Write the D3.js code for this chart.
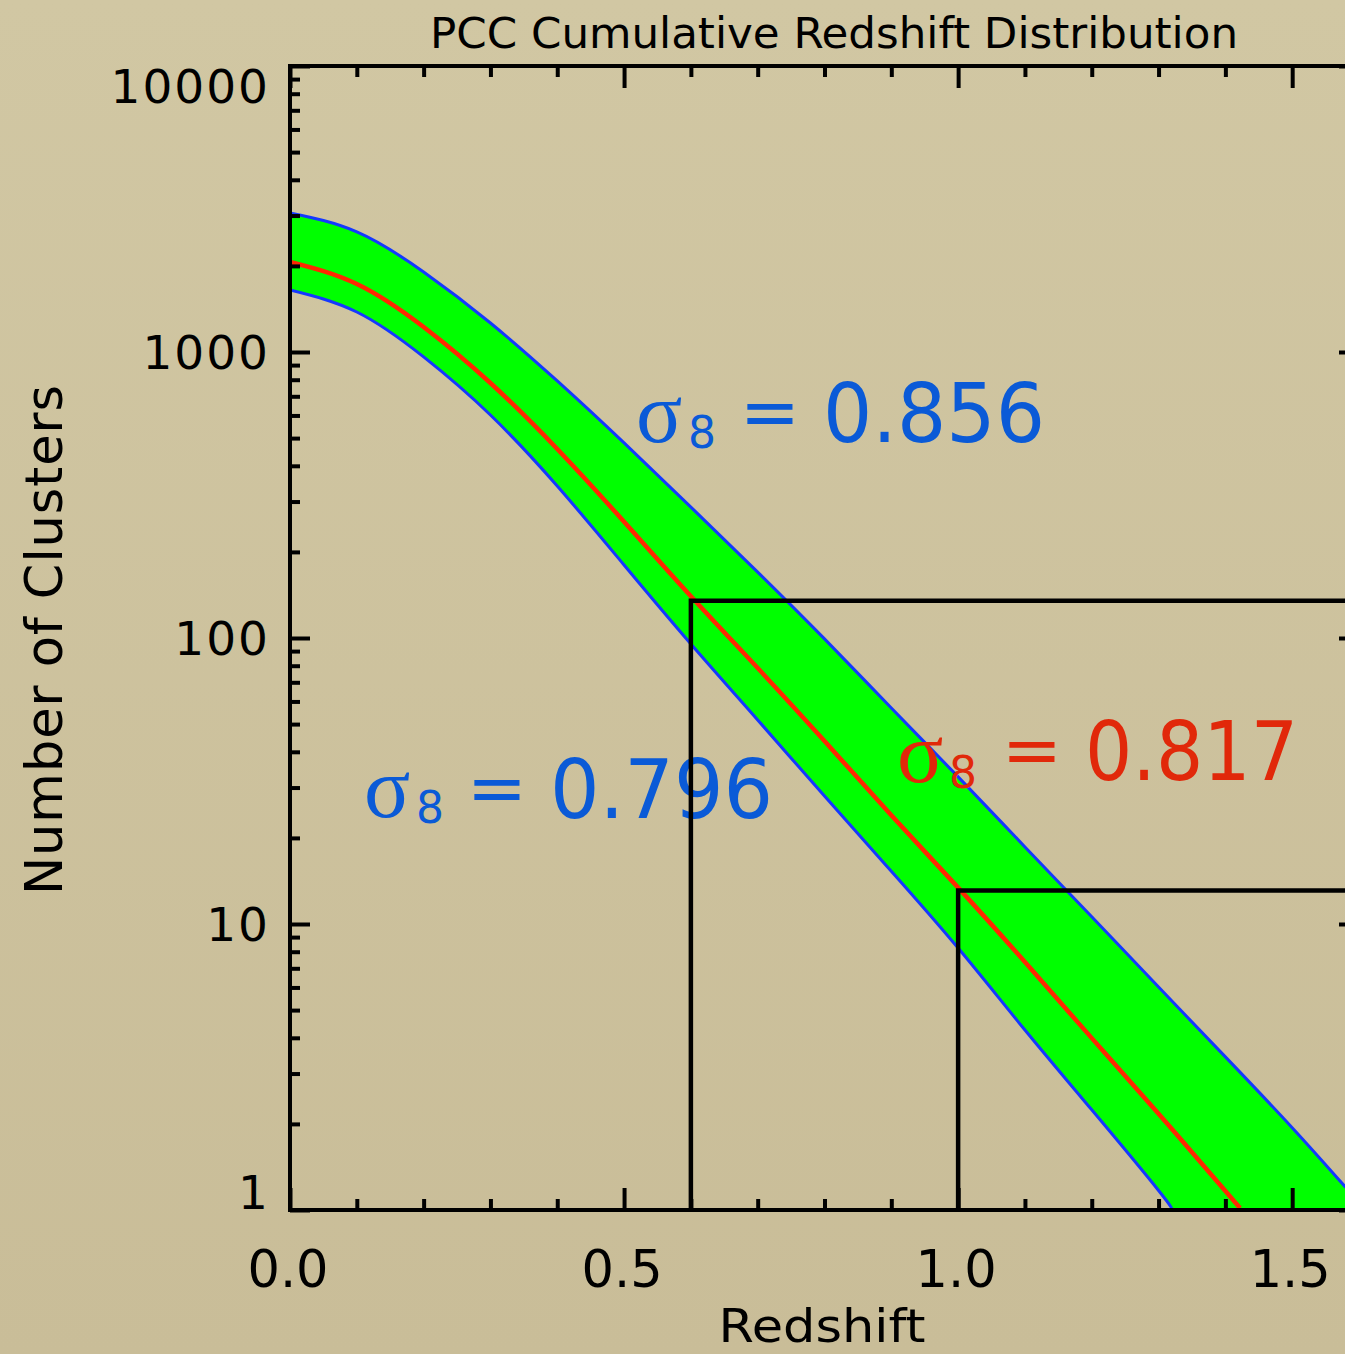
<!DOCTYPE html>
<html><head><meta charset="utf-8">
<script src="https://cdn.jsdelivr.net/npm/d3@7"></script>
<style>html,body{margin:0;padding:0;background:#cfc4a0;overflow:hidden}</style>
</head><body><svg id="c" width="1345" height="1354"></svg>
<script>
// ---------- data ----------
const chartTitle = "PCC Cumulative Redshift Distribution";
const xTitle = "Redshift";
const yTitle = "Number of Clusters";
const xMajorTicks = [0, 0.5, 1.0, 1.5];
const xTickLabels = ["0.0", "0.5", "1.0", "1.5"];
const xMinorTicks = [0.1, 0.2, 0.3, 0.4, 0.6, 0.7, 0.8, 0.9, 1.1, 1.2, 1.3, 1.4];
const yMajorTicks = [1, 10, 100, 1000, 10000];
const yTickLabels = ["1", "10", "100", "1000", "10000"];
const yMinorTicks = [2,3,4,5,6,7,8,9,20,30,40,50,60,70,80,90,200,300,400,500,600,700,800,900,2000,3000,4000,5000,6000,7000,8000,9000];

// sigma8 = 0.856 (upper envelope)
const zUpper = [0, 0.1, 0.2, 0.3, 0.4, 0.5, 0.6, 0.7, 0.8, 0.9, 1.0, 1.1, 1.2, 1.3, 1.4, 1.5, 1.58];
const nUpper = [3062, 2630, 1905, 1263, 792, 481, 287, 170, 99.3, 56.9, 32.7, 18.6, 10.6, 6.02, 3.43, 1.94, 1.20];
// sigma8 = 0.817 (central)
const zCentral = [0, 0.1, 0.2, 0.3, 0.4, 0.5, 0.6, 0.7, 0.8, 0.9, 1.0, 1.1, 1.2, 1.3, 1.4, 1.422];
const nCentral = [2065, 1729, 1223, 779, 458, 255, 140, 78.5, 43.6, 24.0, 13.4, 7.36, 3.99, 2.17, 1.165, 1.016];
// sigma8 = 0.796 (lower envelope)
const zLower = [0, 0.1, 0.2, 0.3, 0.4, 0.5, 0.6, 0.7, 0.8, 0.9, 1.0, 1.1, 1.2, 1.3, 1.32];
const nLower = [1648, 1380, 961, 602, 340, 180, 95.3, 51.7, 28.0, 15.3, 8.24, 4.26, 2.24, 1.17, 1.0];

// redshift cuts (vertical + horizontal black lines)
const cutZ = [0.6, 1.0];
const cutN = [135, 13.1];

const sigmaValues = ["0.856", "0.796", "0.817"];

// ---------- layout ----------
const svg = d3.select("#c");
const L = 290, T = 66, B = 1210, R = 1359;
const x = d3.scaleLinear().domain([0, 1.6]).range([L, R]);
const y = d3.scaleLog().domain([1, 10000]).range([B, T]);

const defs = svg.append("defs");
const grad = defs.append("linearGradient").attr("id","bg").attr("x1",0).attr("y1",0).attr("x2",0).attr("y2",1);
grad.append("stop").attr("offset","0%").attr("stop-color","#d1c7a3");
grad.append("stop").attr("offset","100%").attr("stop-color","#c9bd98");
svg.append("rect").attr("width",1345).attr("height",1354).attr("fill","url(#bg)");

defs.append("clipPath").attr("id","plot").append("rect")
  .attr("x",L).attr("y",T).attr("width",R-L).attr("height",B-T);

const pts = (zs, ns) => zs.map((z,i)=>[x(z), y(ns[i])]);
const lineGen = d3.line().curve(d3.curveNatural);

const up = pts(zUpper, nUpper), mid = pts(zCentral, nCentral), lo = pts(zLower, nLower);
const pUp = lineGen(up);
const pLoRev = lineGen(lo.slice().reverse());
const bandPath = pUp + "L" + up[up.length-1][0] + "," + y(y.domain()[0]) +
  "L" + lo[lo.length-1][0] + "," + lo[lo.length-1][1] + "L" + pLoRev.slice(1) + "Z";

const plot = svg.append("g").attr("clip-path","url(#plot)");
plot.append("path").attr("d", bandPath).attr("fill","#00ff00").attr("stroke","none");
plot.append("path").attr("d", pUp).attr("fill","none").attr("stroke","#1438ff").attr("stroke-width",3);
plot.append("path").attr("d", lineGen(lo)).attr("fill","none").attr("stroke","#1438ff").attr("stroke-width",3);
plot.append("path").attr("d", lineGen(mid)).attr("fill","none").attr("stroke","#ff2800").attr("stroke-width",4.5);

// ---------- sigma labels ----------
const sigmaSpecs = [
  {v: sigmaValues[0], color:"#0a5ad7", sx:636, sb:442, ex:770, vx:823, vw:222, vb:442},
  {v: sigmaValues[1], color:"#0a5ad7", sx:364, sb:817, ex:497, vx:550, vw:223, vb:818},
  {v: sigmaValues[2], color:"#e1280a", sx:897, sb:782, ex:1032, vx:1085, vw:213, vb:780}
];
sigmaSpecs.forEach(s => {
  const g = svg.append("g").attr("fill", s.color);
  g.append("text").attr("x", s.sx).attr("y", s.sb)
    .attr("font-family","'Liberation Serif', 'DejaVu Serif', serif").attr("font-size",86).text("σ");
  g.append("text").attr("x", s.sx+52).attr("y", s.sb+6)
    .attr("font-family","'DejaVu Sans', sans-serif").attr("font-size",44).text("8");
  g.append("text").attr("x", s.ex).attr("y", s.vb-6).attr("text-anchor","middle")
    .attr("font-family","'DejaVu Sans', sans-serif").attr("font-size",72).text("=");
  g.append("text").attr("x", s.vx).attr("y", s.vb)
    .attr("font-family","'DejaVu Sans', sans-serif").attr("font-size",82)
    .attr("textLength", s.vw).attr("lengthAdjust","spacingAndGlyphs").text(s.v);
});

// ---------- cut lines ----------
cutZ.forEach((z,i) => {
  svg.append("path")
    .attr("d", d3.line()([[x(z), y(1)], [x(z), y(cutN[i])], [R, y(cutN[i])]]))
    .attr("fill","none").attr("stroke","#000").attr("stroke-width",4.5);
});

// ---------- axes ----------
function styleAxis(g){
  g.select(".domain").remove();
  g.selectAll(".tick line").attr("stroke","#000").attr("stroke-width",4);
  g.selectAll(".tick text").remove();
}
svg.append("g").attr("transform",`translate(0,${B})`)
  .call(d3.axisBottom(x).tickValues(xMajorTicks).tickSize(-22).tickFormat("")).call(styleAxis);
svg.append("g").attr("transform",`translate(0,${B})`)
  .call(d3.axisBottom(x).tickValues(xMinorTicks).tickSize(-11).tickFormat("")).call(styleAxis);
svg.append("g").attr("transform",`translate(0,${T})`)
  .call(d3.axisTop(x).tickValues(xMajorTicks).tickSize(-22).tickFormat("")).call(styleAxis);
svg.append("g").attr("transform",`translate(0,${T})`)
  .call(d3.axisTop(x).tickValues(xMinorTicks).tickSize(-11).tickFormat("")).call(styleAxis);
svg.append("g").attr("transform",`translate(${L},0)`)
  .call(d3.axisLeft(y).tickValues(yMajorTicks).tickSize(-20).tickFormat("")).call(styleAxis);
svg.append("g").attr("transform",`translate(${L},0)`)
  .call(d3.axisLeft(y).tickValues(yMinorTicks).tickSize(-10).tickFormat("")).call(styleAxis);
svg.append("g").attr("transform",`translate(${R},0)`)
  .call(d3.axisRight(y).tickValues(yMajorTicks).tickSize(-20).tickFormat("")).call(styleAxis);
svg.append("g").attr("transform",`translate(${R},0)`)
  .call(d3.axisRight(y).tickValues(yMinorTicks).tickSize(-10).tickFormat("")).call(styleAxis);

svg.append("rect").attr("x",L).attr("y",T).attr("width",R-L).attr("height",B-T)
  .attr("fill","none").attr("stroke","#000").attr("stroke-width",4);

// tick labels
svg.append("g").selectAll("text").data(xMajorTicks).join("text")
  .attr("x", d => x(d) - 2).attr("y", 1287).attr("text-anchor","middle")
  .attr("font-family","'DejaVu Sans', sans-serif").attr("font-size",51).attr("fill","#000")
  .text((d,i) => xTickLabels[i]);
svg.append("g").selectAll("text").data(yMajorTicks).join("text")
  .attr("x", 270).attr("y", d => Math.min(B-1, Math.max(T+37, y(d)+17))).attr("text-anchor","end")
  .attr("font-family","'DejaVu Sans', sans-serif").attr("font-size",47).attr("letter-spacing",2).attr("fill","#000")
  .text((d,i) => yTickLabels[i]);

// titles
svg.append("text").attr("x",834).attr("y",48).attr("text-anchor","middle")
  .attr("font-family","'DejaVu Sans Condensed', 'DejaVu Sans', sans-serif").attr("font-size",42)
  .attr("textLength",808).attr("lengthAdjust","spacingAndGlyphs").text(chartTitle);
svg.append("text").attr("x",822).attr("y",1342).attr("text-anchor","middle")
  .attr("font-family","'DejaVu Sans', sans-serif").attr("font-size",46)
  .attr("textLength",207).attr("lengthAdjust","spacingAndGlyphs").text(xTitle);
svg.append("text").attr("transform","translate(62,640) rotate(-90)").attr("text-anchor","middle")
  .attr("font-family","'DejaVu Sans', sans-serif").attr("font-size",51)
  .attr("textLength",510).attr("lengthAdjust","spacing").text(yTitle);
</script></body></html>
